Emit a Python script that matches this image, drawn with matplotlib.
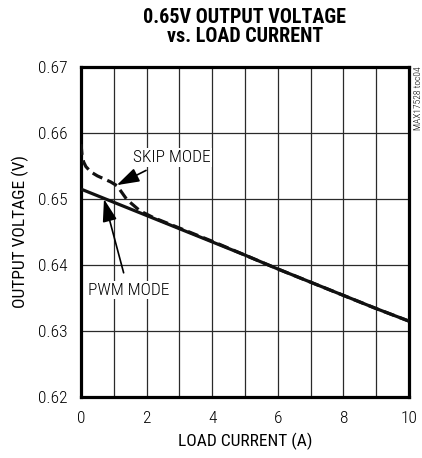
import matplotlib
matplotlib.use("Agg")
import matplotlib.pyplot as plt
from matplotlib import font_manager as fm

# Data
pwm_current = [0, 1, 2, 3, 4, 5, 6, 7, 8, 9, 10]
pwm_voltage = [0.6515, 0.6495, 0.6475, 0.6455, 0.6435, 0.6415, 0.6394, 0.6374, 0.6354, 0.6334, 0.6315]

skip_current = [0, 0.03, 0.08, 0.15, 0.3, 0.5, 0.9, 1.1, 1.4, 1.8, 2.2, 2.6, 3, 4, 5, 6, 7, 8, 9, 10]
skip_voltage = [0.6583, 0.6567, 0.6556, 0.6549, 0.6541, 0.6535, 0.6526, 0.6520, 0.6499, 0.6482, 0.6472, 0.6464, 0.6456, 0.6436, 0.6415, 0.6394, 0.6374, 0.6354, 0.6334, 0.6315]

x_ticks = [0, 2, 4, 6, 8, 10]
y_ticks = [0.62, 0.63, 0.64, 0.65, 0.66, 0.67]

fonts = fm.fontManager.ttflist
names = {f.name for f in fonts}
def pick(cands):
    for c in cands:
        if c in names:
            return c
    return 'DejaVu Sans'
fam = pick(['Roboto Condensed', 'Archivo Narrow', 'Barlow Semi Condensed', 'Asap Condensed'])
tfam = pick(['Roboto Condensed', 'Barlow Condensed', 'Archivo Narrow'])
has_light = any(f.name == fam and f.weight in (300, 'light') for f in fonts)
lw_txt = 'light' if has_light else 'normal'
plt.rcParams['font.family'] = [fam, 'DejaVu Sans']
plt.rcParams['font.weight'] = lw_txt

fig = plt.figure(figsize=(4.22, 4.58), dpi=100)
ax = fig.add_axes([0.192, 0.1332, 0.777, 0.7205])

ax.set_xlim(0, 10)
ax.set_ylim(0.62, 0.67)
ax.set_xticks(x_ticks)
ax.set_xticks(range(0, 11), minor=True)
ax.set_yticks(y_ticks)
ax.set_yticklabels([f"{v:.2f}" for v in y_ticks])
ax.grid(True, which='both', axis='x', color='#2a2a2a', linewidth=0.9)
ax.grid(True, which='major', axis='y', color='#2a2a2a', linewidth=0.9)
ax.tick_params(which='both', length=0, pad=10, labelsize=12.5)
ax.set_axisbelow(True)
for s in ax.spines.values():
    s.set_linewidth(2.3)

ax.plot(pwm_current, pwm_voltage, color='#111111', linewidth=2.3, solid_capstyle='butt', zorder=3)
ax.plot(skip_current, skip_voltage, color='#111111', linewidth=2.3, linestyle=(0, (3.4, 1.7)), zorder=3)

arrow = dict(arrowstyle='-|>,head_length=1.1,head_width=0.35', color='black', lw=1.2, shrinkA=6, shrinkB=0)
ax.annotate('SKIP MODE', xy=(1.09, 0.6521), xytext=(2.77, 0.6563), fontsize=12.5, ha='center', va='center',
            bbox=dict(boxstyle='square,pad=0.1', fc='white', ec='none'), arrowprops=arrow, zorder=5)
ax.annotate('PWM MODE', xy=(0.70, 0.6500), xytext=(1.44, 0.6362), fontsize=12.5, ha='center', va='center',
            bbox=dict(boxstyle='square,pad=0.1', fc='white', ec='none'), arrowprops=arrow, zorder=5)

ax.set_xlabel('LOAD CURRENT (A)', fontsize=12.5, labelpad=5)
ax.set_ylabel('OUTPUT VOLTAGE (V)', fontsize=12.5, labelpad=6)

fig.text(0.58, 0.983, '0.65V OUTPUT VOLTAGE\nvs. LOAD CURRENT', ha='center', va='top',
         fontsize=14.5, fontweight='heavy', family=[tfam, 'DejaVu Sans'], linespacing=1.0)
fig.text(0.991, 0.856, 'MAX17528 toc04', rotation=90, ha='center', va='top', fontsize=6.8)

fig.savefig('out.png', dpi=100)
